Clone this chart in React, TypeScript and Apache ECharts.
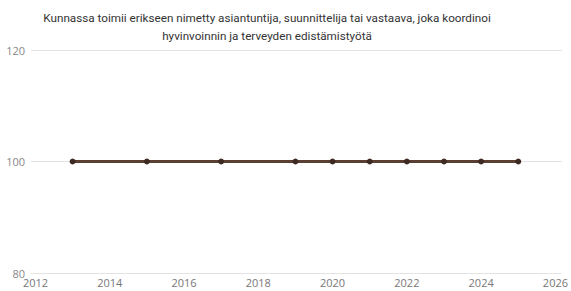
import React, { useEffect, useRef } from "react";
import * as echarts from "echarts";

const titleText =
  "Kunnassa toimii erikseen nimetty asiantuntija, suunnittelija tai vastaava, joka koordinoi\nhyvinvoinnin ja terveyden edistämistyötä";
const years = [2013, 2015, 2017, 2019, 2020, 2021, 2022, 2023, 2024, 2025];
const values = [100, 100, 100, 100, 100, 100, 100, 100, 100, 100];
const xTicks = [2012, 2014, 2016, 2018, 2020, 2022, 2024, 2026];
const yTicks = [80, 100, 120];

export default function App() {
  const ref = useRef<HTMLDivElement>(null);
  useEffect(() => {
    const chart = echarts.init(ref.current!, null, { renderer: "svg" });
    chart.setOption({
      animation: false,
      title: {
        text: titleText,
        left: 262,
        textAlign: "center",
        top: 4,
        textStyle: {
          fontFamily: "Roboto",
          fontSize: 11.7,
          fontWeight: "normal",
          color: "#333",
          lineHeight: 18,
        },
      },
      grid: { left: 31, right: 4, top: 50, bottom: 18 },
      xAxis: {
        type: "value",
        min: 2011.88,
        max: 2026.17,
        splitLine: { show: false },
        axisLine: { show: false },
        axisTick: { show: false },
        axisLabel: {
          customValues: xTicks,
          formatter: (v: number) => String(v),
          color: "#777",
          fontFamily: "Open Sans",
          fontSize: 11,
          margin: 4,
        },
      },
      yAxis: {
        type: "value",
        min: 80,
        max: 120,
        interval: 20,
        axisLine: { show: false },
        axisTick: { show: false },
        splitLine: { lineStyle: { color: "#e3e3e3", width: 1 } },
        axisLabel: {
          customValues: yTicks,
          color: "#888",
          fontFamily: "Open Sans",
          fontSize: 11,
          margin: 6,
        },
      },
      series: [
        {
          type: "line",
          data: years.map((y, i) => [y, values[i]]),
          symbol: "circle",
          symbolSize: 6,
          lineStyle: { color: "#5b3f33", width: 3 },
          itemStyle: { color: "#3e2a22" },
        },
      ],
    });
    return () => chart.dispose();
  }, []);
  return (
    <div
      ref={ref}
      style={{ position: "absolute", left: 0, top: 0, width: 571, height: 291 }}
    />
  );
}
